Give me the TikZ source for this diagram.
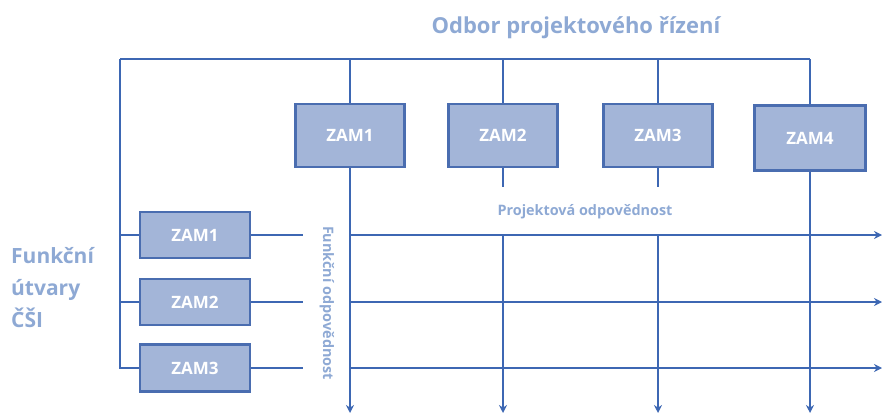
\documentclass[tikz,border=0pt]{standalone}
\usepackage{fontspec}
\setmainfont{Open Sans}
\usetikzlibrary{arrows.meta}
\definecolor{lineblue}{HTML}{3D67B3}
\definecolor{boxfill}{HTML}{A3B5D8}
\definecolor{boxedge}{HTML}{4A6DB0}
\definecolor{labelc}{HTML}{8EA9D4}
\tikzset{
  conn/.style={draw=lineblue, line width=2.2pt},
  arr/.style={conn, -{Stealth[length=8pt,width=8pt]}},
  zambox/.style={draw=boxedge, fill=boxfill, line width=2.2pt, text=white,
    font=\bfseries\fontsize{17}{17}\selectfont, inner sep=0pt},
  topbox/.style={zambox, minimum width=109pt, minimum height=63pt},
  leftbox/.style={zambox, minimum width=110pt, minimum height=46pt},
  biglabel/.style={text=labelc, font=\bfseries\fontsize{21}{21}\selectfont, inner sep=0pt},
  titlelabel/.style={text=labelc, font=\bfseries\fontsize{22}{22}\selectfont, inner sep=0pt},
  smalllabel/.style={text=labelc, font=\bfseries\fontsize{14.4}{14.4}\selectfont, inner sep=0pt}
}
\begin{document}
\begin{tikzpicture}[x=1pt,y=-1pt]
\useasboundingbox (0,0) rectangle (882,415);
% labels
\node[titlelabel] (title) at (576,28) {Odbor projektového řízení};
\node[biglabel, anchor=base west] (f1) at (11,263) {Funkční};
\node[biglabel, anchor=base west] (f2) at (11,295) {útvary};
\node[biglabel, anchor=base west] (f3) at (11,327) {ČŠI};
\node[smalllabel] (proj) at (585,212) {Projektová odpovědnost};
\node[smalllabel, rotate=-90] (func) at (327,303) {Funkční odpovědnost};
% top boxes
\node[topbox] (T1) at (350,135.5) {ZAM1};
\node[topbox] (T2) at (503,135.5) {ZAM2};
\node[topbox] (T3) at (658,135.5) {ZAM3};
\node[topbox, minimum width=111pt, minimum height=65pt] (T4) at (810,138) {ZAM4};
% left boxes
\node[leftbox] (L1) at (195,235) {ZAM1};
\node[leftbox] (L2) at (195,302) {ZAM2};
\node[leftbox, minimum height=47pt] (L3) at (195,368) {ZAM3};
% coordinates
\coordinate (tl) at (120,59);
\coordinate (tr) at (810,59);
\coordinate (s1) at (303,235);
\coordinate (s2) at (303,302);
\coordinate (s3) at (303,368);
\coordinate (h1) at (350,235);
\coordinate (h2) at (350,302);
\coordinate (h3) at (350,368);
\coordinate (e1) at (882,235);
\coordinate (e2) at (882,302);
\coordinate (e3) at (882,368);
\coordinate (b1) at (350,413);
\coordinate (b2) at (503,413);
\coordinate (b3) at (658,413);
\coordinate (b4) at (810,413);
\coordinate (g2) at (503,187);
\coordinate (g3) at (658,187);
\coordinate (r2) at (503,235);
\coordinate (r3) at (658,235);
% top bus
\draw[conn] (tl) -- (tr);
\draw[conn] (tl) |- (L3.west);
\draw[conn] (tl |- L1.west) -- (L1.west);
\draw[conn] (tl |- L2.west) -- (L2.west);
\draw[conn] (T1.north |- tl) -- (T1.north);
\draw[conn] (T2.north |- tl) -- (T2.north);
\draw[conn] (T3.north |- tl) -- (T3.north);
\draw[conn] (tr) -- (T4.north);
% left stubs
\draw[conn] (L1.east) -- (s1);
\draw[conn] (L2.east) -- (s2);
\draw[conn] (L3.east) -- (s3);
% horizontal arrows
\draw[arr] (h1) -- (e1);
\draw[arr] (h2) -- (e2);
\draw[arr] (h3) -- (e3);
% vertical arrows
\draw[arr] (T1.south) -- (b1);
\draw[conn] (T2.south) -- (g2);
\draw[arr] (r2) -- (b2);
\draw[conn] (T3.south) -- (g3);
\draw[arr] (r3) -- (b3);
\draw[arr] (T4.south) -- (b4);
\end{tikzpicture}
\end{document}
